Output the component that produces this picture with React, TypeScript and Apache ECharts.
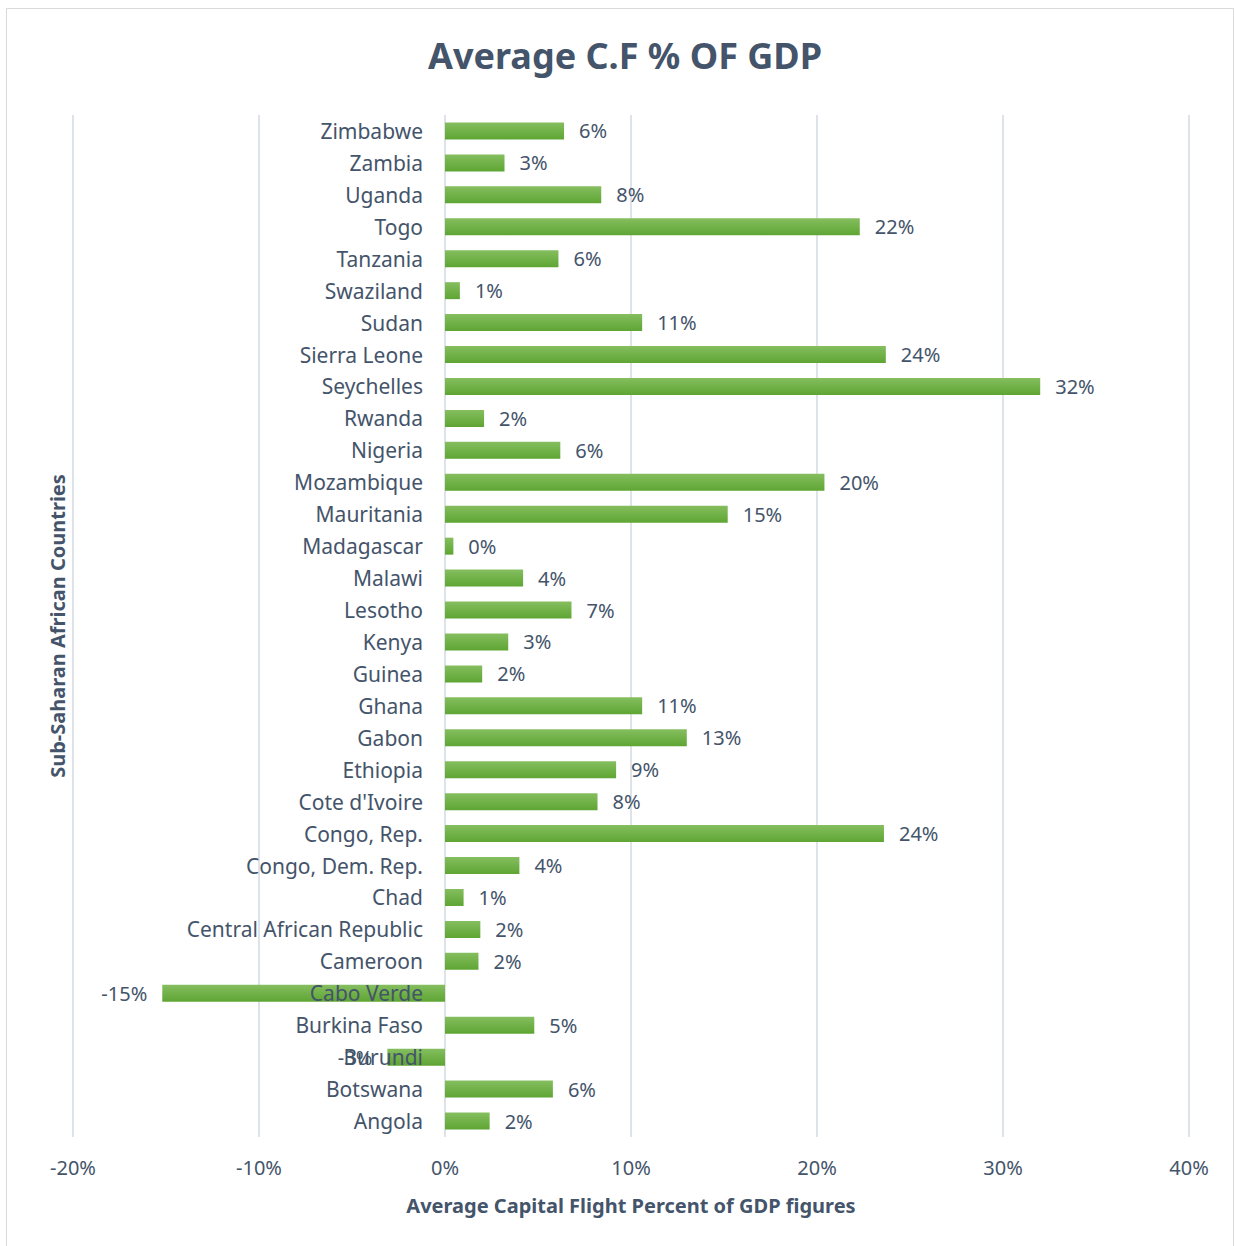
import React, { useEffect, useRef } from "react";
import * as echarts from "echarts";

const categories = [
  "Angola", "Botswana", "Burundi", "Burkina Faso", "Cabo Verde", "Cameroon",
  "Central African Republic", "Chad", "Congo, Dem. Rep.", "Congo, Rep.",
  "Cote d'Ivoire", "Ethiopia", "Gabon", "Ghana", "Guinea", "Kenya", "Lesotho",
  "Malawi", "Madagascar", "Mauritania", "Mozambique", "Nigeria", "Rwanda",
  "Seychelles", "Sierra Leone", "Sudan", "Swaziland", "Tanzania", "Togo",
  "Uganda", "Zambia", "Zimbabwe",
];

const values = [
  2.4, 5.8, -3.1, 4.8, -15.2, 1.8,
  1.9, 1.0, 4.0, 23.6,
  8.2, 9.2, 13.0, 10.6, 2.0, 3.4, 6.8,
  4.2, 0.45, 15.2, 20.4, 6.2, 2.1,
  32.0, 23.7, 10.6, 0.8, 6.1, 22.3,
  8.4, 3.2, 6.4,
];

const xTicks = { min: -20, max: 40, interval: 10 };

const TEXT = "#44546A";
const FONT = "'Noto Sans', 'Open Sans', sans-serif";

export default function App() {
  const ref = useRef<HTMLDivElement>(null);
  useEffect(() => {
    document.body.style.margin = "0";
    const chart = echarts.init(ref.current!, null, { renderer: "svg" });
    const gradient = new echarts.graphic.LinearGradient(0, 0, 0, 1, [
      { offset: 0, color: "#85BE5F" },
      { offset: 1, color: "#5EA533" },
    ]);
    const gridLeft = 73;
    const gridRight = 45;
    const plotW = 1234 - gridLeft - gridRight;
    const zeroOffset = (plotW * (0 - xTicks.min)) / (xTicks.max - xTicks.min);
    chart.setOption({
      animation: false,
      backgroundColor: "#ffffff",
      textStyle: { fontFamily: FONT },
      title: {
        text: "Average C.F % OF GDP",
        left: 423,
        top: 32,
        textStyle: { color: TEXT, fontSize: 36, fontWeight: "bold", fontFamily: FONT },
      },
      graphic: [
        {
          type: "rect",
          shape: { x: 6.5, y: 8.5, width: 1227, height: 1260 },
          style: { fill: "none", stroke: "#D9D9D9", lineWidth: 1 },
          silent: true,
        },
      ],
      grid: {
        left: gridLeft,
        right: gridRight,
        top: 115,
        bottom: 109,
        containLabel: false,
        outerBoundsMode: "none",
      },
      xAxis: {
        type: "value",
        min: xTicks.min,
        max: xTicks.max,
        interval: xTicks.interval,
        axisLabel: {
          formatter: (v: number) => `${v}%`,
          color: TEXT,
          fontSize: 20,
          margin: 20,
          fontFamily: FONT,
        },
        axisLine: { show: false },
        axisTick: { show: false },
        splitLine: { show: true, lineStyle: { color: "#DEE3EA", width: 2 } },
        name: "Average Capital Flight Percent of GDP figures",
        nameLocation: "middle",
        nameGap: 58,
        nameTextStyle: { color: TEXT, fontSize: 20, fontWeight: "bold", fontFamily: FONT },
      },
      yAxis: {
        type: "category",
        data: categories,
        z: 5,
        offset: -zeroOffset,
        axisLine: { show: false, onZero: false },
        axisTick: { show: false },
        axisLabel: { color: TEXT, fontSize: 21, margin: 22, fontFamily: FONT },
        splitLine: { show: false },
        name: "Sub-Saharan African Countries",
        nameLocation: "middle",
        nameRotate: 90,
        nameGap: 388 - 10,
        nameTextStyle: { color: TEXT, fontSize: 20, fontWeight: "bold", fontFamily: FONT },
      },
      series: [
        {
          type: "bar",
          barWidth: 17,
          itemStyle: { color: gradient },
          data: values.map((v) => ({
            value: v,
            label: { position: v < 0 ? "left" : "right" },
          })),
          label: {
            show: true,
            distance: 15,
            color: TEXT,
            fontSize: 20,
            fontFamily: FONT,
            formatter: (p: any) => `${Math.round(p.value)}%`,
          },
        },
      ],
    });
    return () => chart.dispose();
  }, []);
  return <div ref={ref} style={{ width: 1234, height: 1246 }} />;
}
